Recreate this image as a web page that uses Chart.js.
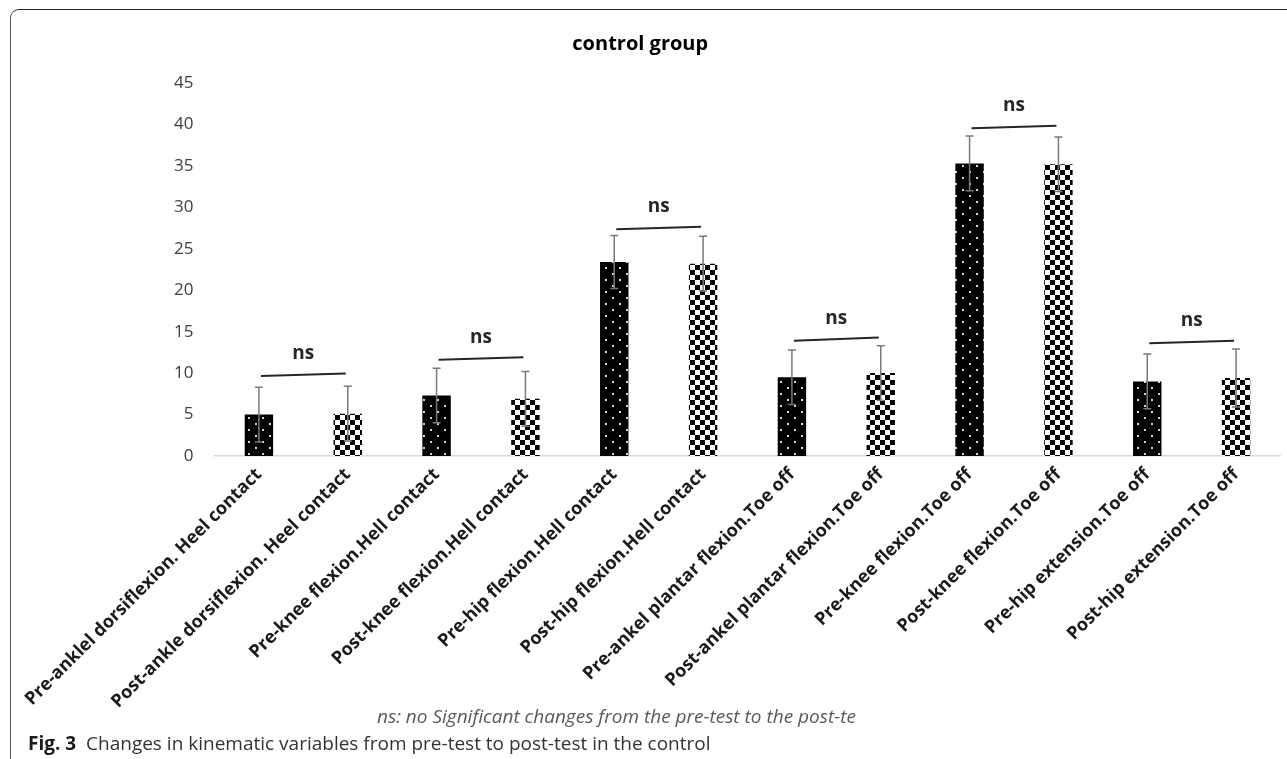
<!DOCTYPE html>
<html><head><meta charset="utf-8">
<script src="https://cdn.jsdelivr.net/npm/chart.js@4.4.0/dist/chart.umd.min.js"></script>
<style>
html,body{margin:0;padding:0;background:#fff;width:1287px;height:759px;overflow:hidden;}
#wrap{position:relative;width:1287px;height:759px;}
canvas{position:absolute;left:0;top:0;}
#frame{position:absolute;left:10px;top:9px;width:1300px;height:800px;border-left:1.5px solid #555;border-top:1.5px solid #222;border-top-left-radius:9px;box-sizing:border-box;}
.txt{position:absolute;white-space:nowrap;transform-origin:0 50%;line-height:24px;}
#note{left:377px;top:703px;font:italic 19px "Open Sans";color:#595959;}
#cap{left:28px;top:730px;font:19px "Open Sans";color:#333;}
#cap b{color:#1a1a1a;}
</style></head>
<body>
<div id="wrap">
<canvas id="c" width="1287" height="759"></canvas>
<div id="frame"></div>
<div id="note" class="txt">ns: no Significant changes from the pre-test to the post-te</div>
<div id="cap" class="txt"><b>Fig. 3</b>&nbsp; Changes in kinematic variables from pre-test to post-test in the control</div>
</div>
<script>
// ---- data ----
const categories = [
  "Pre-anklel dorsiflexion. Heel contact",
  "Post-ankle dorsiflexion. Heel contact",
  "Pre-knee flexion.Hell contact",
  "Post-knee flexion.Hell contact",
  "Pre-hip flexion.Hell contact",
  "Post-hip flexion.Hell contact",
  "Pre-ankel plantar flexion.Toe off",
  "Post-ankel plantar flexion.Toe off",
  "Pre-knee flexion.Toe off",
  "Post-knee flexion.Toe off",
  "Pre-hip extension.Toe off",
  "Post-hip extension.Toe off"
];
const means = [5.0, 5.1, 7.3, 6.9, 23.4, 23.2, 9.5, 10.0, 35.3, 35.2, 9.0, 9.4];
const sds   = [3.3, 3.3, 3.3, 3.3, 3.2, 3.3, 3.3, 3.3, 3.3, 3.3, 3.3, 3.5];
const yTickMin = 0, yTickMax = 45, yTickStep = 5;
const nsPairs = [[0,1],[2,3],[4,5],[6,7],[8,9],[10,11]];
const nsLeftValue  = [9.65, 11.6, 27.35, 13.9, 39.55, 13.6];
const nsRightValue = [9.95, 11.9, 27.65, 14.3, 39.85, 13.9];
const nsText = "ns";
const titleText = "control group";

// ---- patterns ----
const cv = document.getElementById('c');
const ctx0 = cv.getContext('2d');
function dotPattern(){
  const c=document.createElement('canvas');c.width=14;c.height=12;
  const g=c.getContext('2d');g.fillStyle='#000';g.fillRect(0,0,14,12);
  g.fillStyle='#d8d8d8';g.fillRect(3,3,2,2);g.fillRect(10,9,2,2);
  return ctx0.createPattern(c,'repeat');
}
function checkPattern(){
  const c=document.createElement('canvas');c.width=10;c.height=10;
  const g=c.getContext('2d');g.fillStyle='#fff';g.fillRect(0,0,10,10);
  g.fillStyle='#000';g.fillRect(0,0,5,5);g.fillRect(5,5,5,5);
  return ctx0.createPattern(c,'repeat');
}
const pDot = dotPattern(), pChk = checkPattern();
const fills = categories.map((_,i)=> i%2===0 ? pDot : pChk);

const annot = {
  id:'annot',
  afterDatasetsDraw(chart){
    const ctx=chart.ctx, y=chart.scales.y, meta=chart.getDatasetMeta(0);
    ctx.save();
    ctx.strokeStyle='#7a7a7a'; ctx.lineWidth=1.5;
    meta.data.forEach((bar,i)=>{
      const x=bar.x, yt=y.getPixelForValue(means[i]+sds[i]), yb=y.getPixelForValue(means[i]-sds[i]);
      ctx.beginPath();
      ctx.moveTo(x,yt);ctx.lineTo(x,yb);
      ctx.moveTo(x-4,yt);ctx.lineTo(x+4,yt);
      ctx.moveTo(x-4,yb);ctx.lineTo(x+4,yb);
      ctx.stroke();
    });
    ctx.strokeStyle='#262626'; ctx.lineWidth=2;
    ctx.fillStyle='#262626'; ctx.font='bold 19px "Open Sans"';
    ctx.textAlign='center'; ctx.textBaseline='middle';
    nsPairs.forEach((p,k)=>{
      const x1=meta.data[p[0]].x+2, x2=meta.data[p[1]].x-2;
      const y1=y.getPixelForValue(nsLeftValue[k]), y2=y.getPixelForValue(nsRightValue[k]);
      ctx.beginPath();ctx.moveTo(x1,y1);ctx.lineTo(x2,y2);ctx.stroke();
      ctx.fillText(nsText,(x1+x2)/2,(y1+y2)/2-21);
    });
    ctx.restore();
  }
};

new Chart(cv,{
  type:'bar',
  data:{labels:categories,datasets:[{data:means,backgroundColor:fills,borderWidth:0,barPercentage:0.32,categoryPercentage:1}]},
  options:{
    responsive:false, animation:false, devicePixelRatio:1,
    layout:{padding:{left:0,right:6.5,top:0,bottom:0}},
    plugins:{
      legend:{display:false}, tooltip:{enabled:false},
      title:{display:true,text:titleText,color:'#000',font:{family:'Open Sans',size:20,weight:'bold'},padding:{top:32,bottom:27}}
    },
    scales:{
      x:{
        grid:{display:false,drawTicks:false},
        border:{display:true,color:'#d9d9d9',width:1.5},
        ticks:{autoSkip:false,minRotation:45,maxRotation:45,padding:8,color:'#1a1a1a',font:{family:'Open Sans',size:18,weight:'bold'}},
        afterFit(s){s.height=303;s.paddingLeft=0;s.paddingRight=0;}
      },
      y:{
        min:yTickMin,max:yTickMax,
        grid:{display:false,drawTicks:false},
        border:{display:false},
        ticks:{stepSize:yTickStep,padding:21,color:'#404040',font:{family:'Open Sans',size:17}},
        afterFit(s){s.width=214.5;}
      }
    }
  },
  plugins:[annot]
});
</script>
</body></html>
